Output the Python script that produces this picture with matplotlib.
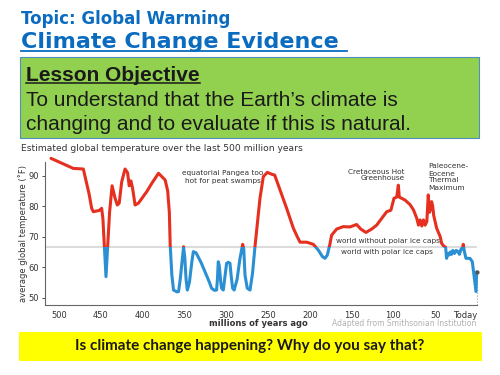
import numpy as np
import matplotlib.pyplot as plt
from matplotlib.patches import Rectangle
from matplotlib.lines import Line2D

# millions of years ago / estimated temperature (F)
years = [509.6, 482.9, 470.9, 464, 460.9, 459, 452, 449, 447.5, 445.5, 443.8, 442,
         439.5, 436.5, 433, 430.3, 428, 425, 421, 418, 416, 414, 412, 409, 405,
         395, 389, 383, 381, 377, 373, 370, 368, 367, 365, 363, 359, 357, 355,
         352, 351, 349.5, 348, 346.5, 344, 341, 339.3, 336, 330, 325.4, 320,
         317.5, 314, 311.5, 310.5, 309.5, 308.3, 306.5, 305.5, 303.5, 301.5,
         299.5, 297.5, 295.5, 294, 292.3, 290.5, 287, 283.5, 281, 280.3, 279,
         277.5, 274.8, 271.5, 268.5, 265.6, 262.5, 259.6, 255.6, 250.8, 245.7,
         242, 235.6, 227.7, 219.7, 215, 211.7, 203.7, 195.8, 189.8, 185, 181.8,
         179, 176, 173.9, 167.9, 160, 152, 144, 139, 132.8, 126, 120, 108, 103,
         99.3, 96, 94.1, 93, 86, 80, 76, 72, 70, 68, 66, 64, 62, 60, 58.3, 57,
         55.5, 54.3, 53, 51.8, 48.3, 44, 42.3, 40, 37.5, 36.4, 35, 33.5, 32,
         30.5, 29, 27, 25, 23, 21, 19, 17.5, 16.4, 15, 13.2, 8.4, 5.6, 3.2,
         1.2, 0.4]
temps = [95.7, 92.4, 92.2, 84, 79.3, 78.2, 78.6, 79.3, 76, 66, 56.9, 66,
         78, 86.7, 82.7, 80.4, 81, 88, 92.2, 91, 86.7, 88.3, 85.9, 80.4, 81,
         84.8, 87.5, 90, 90.8, 89.7, 88.6, 85, 78, 67.3, 57.4, 52.5, 51.9, 52, 56,
         64, 66.7, 63, 56, 52.5, 55, 62, 65.1, 64.7, 61.5, 58.5, 55,
         53.1, 52.4, 52.5, 56, 61.8, 60.5, 55, 53.1, 52.5, 57,
         61.3, 61.6, 61.3, 57, 53.1, 52.5, 56, 62.9, 66.5, 67.5, 66,
         57.4, 53.1, 52.5, 58, 66.7, 75, 82.6, 89.7, 91.1, 90.5,
         90.2, 85.3, 79.3, 72.8, 70, 68.2, 68.2, 67.5, 65.6, 63.5, 62.9,
         64, 67.5, 70.5, 72.5, 73.3, 73.2, 74, 72.5, 71.4, 72.5, 73.8, 78.2, 78.7,
         82.6, 83, 86.9, 83, 82, 80.5, 78.8, 76, 73.8, 75.5, 73.5, 75.5, 73.8, 75, 83.7, 78,
         79, 81.5, 80, 77, 72.8, 70, 67.8, 67, 66.5, 62.9, 64.5, 64, 65,
         64.2, 65.5, 64.5, 65.5, 65.2, 64.2, 66, 66, 67.5, 65, 62.9, 62.9, 61.8, 56.4,
         52, 58.5]
ice_line = 66.7
x_ticks = [500, 450, 400, 350, 300, 250, 200, 150, 100, 50, 0]
x_labels = ['500', '450', '400', '350', '300', '250', '200', '150', '100', '50', 'Today']
y_ticks = [50, 60, 70, 80, 90]

W, H = 500, 375
fig = plt.figure(figsize=(5, 3.75), dpi=100)


def px(x, y):
    return x / W, 1 - y / H


def underline(t, y, color, lw):
    fig.canvas.draw()
    bb = t.get_window_extent()
    fig.add_artist(Line2D([bb.x0 / W, bb.x1 / W], [1 - y / H, 1 - y / H],
                          color=color, lw=lw, transform=fig.transFigure))


blue = '#0b6cbf'
fig.text(*px(21, 24), 'Topic: Global Warming', fontsize=12, fontweight='bold',
         color=blue, va='baseline', family='DejaVu Sans')
t2 = fig.text(*px(21, 48), 'Climate Change Evidence ', fontsize=16, fontweight='bold',
              color=blue, va='baseline', family='DejaVu Sans')
underline(t2, 50.5, blue, 1.3)

fig.add_artist(Rectangle(px(20, 138), 459 / W, 81 / H, transform=fig.transFigure,
                         facecolor='#92d050', edgecolor='#4f8fb8', lw=0.8))
t3 = fig.text(*px(26, 81), 'Lesson Objective', fontsize=15, fontweight='bold',
              color='#1a1a1a', va='baseline', family='Liberation Sans')
underline(t3, 83, '#1a1a1a', 1.1)
fig.text(*px(26, 105.5), 'To understand that the Earth\u2019s climate is', fontsize=15,
         color='#1a1a1a', va='baseline', family='Liberation Sans')
fig.text(*px(26, 130), 'changing and to evaluate if this is natural.', fontsize=15,
         color='#1a1a1a', va='baseline', family='Liberation Sans')

fig.text(*px(21, 148), 'Estimated global temperature over the last 500 million years',
         fontsize=6.6, color='#333333', va='center', family='DejaVu Sans')

# chart
ax = fig.add_axes([44.5 / W, 1 - 305 / H, (477 - 44.5) / W, (305 - 162) / H])
x0 = 500 + (44.5 - 59) / -0.836
ax.set_xlim(x0, 0)
ax.set_ylim(47.6, 94.5)
ax.axhline(ice_line, color='#dcdcdc', lw=1.5, zorder=1)

for color, lo, hi in [('#e5301f', ice_line, 120), ('#2b90d3', 30, ice_line)]:
    ln, = ax.plot(years, temps, color=color, lw=2.2, solid_joinstyle='round',
                  solid_capstyle='round', zorder=3)
    clip = Rectangle((600, lo), -700, hi - lo, transform=ax.transData)
    ln.set_clip_path(clip)

ax.plot([0, 0], [47.6, 58.5], ls=':', color='#999999', lw=0.8, clip_on=False)
ax.plot([0.4], [58.5], 'o', color='#555555', ms=2, clip_on=False, zorder=4)

for s in ['top', 'right']:
    ax.spines[s].set_visible(False)
for s in ['left', 'bottom']:
    ax.spines[s].set_color('#666666')
    ax.spines[s].set_linewidth(0.8)
ax.set_xticks(x_ticks)
ax.set_xticklabels(x_labels)
ax.set_yticks(y_ticks)
ax.tick_params(axis='both', labelsize=6, colors='#333333', length=2, width=0.6, pad=2)
ax.tick_params(axis='x', length=0, pad=4)
ax.get_xticklabels()[-1].set_ha('right')
ax.set_ylabel('average global temperature (\u02daF)', fontsize=6, color='#333333', labelpad=0)
ax.patch.set_alpha(0)

fig.text(*px(258, 323), 'millions of years ago', fontsize=6, fontweight='bold',
         color='#333333', ha='center', va='center')
fig.text(*px(476, 323), 'Adapted from Smithsonian Institution', fontsize=5.5,
         color='#b0b0b0', ha='right', va='center')

ann = dict(fontsize=5.3, color='#333333', linespacing=1.2)
fig.text(*px(223, 177), 'equatorial Pangea too\nhot for peat swamps', ha='center', va='center', **ann)
fig.text(*px(405, 175), 'Cretaceous Hot\nGreenhouse', ha='right', va='center', multialignment='right', **ann)
fig.text(*px(428, 177), 'Paleocene-\nEocene\nThermal\nMaximum', ha='left', va='center', **ann)
fig.text(*px(388, 241), 'world without polar ice caps', ha='center', va='center', **ann)
fig.text(*px(387, 252), 'world with polar ice caps', ha='center', va='center', **ann)

# question banner
fig.add_artist(Rectangle(px(19, 361), 463 / W, 29 / H, transform=fig.transFigure,
                         facecolor='#ffff00', edgecolor='none'))
fig.text(*px(250, 346), 'Is climate change happening? Why do you say that?', fontsize=11,
         fontweight='bold', color='#1a1a1a', ha='center', va='center', family='Lato')

fig.savefig('out.png', dpi=100)
